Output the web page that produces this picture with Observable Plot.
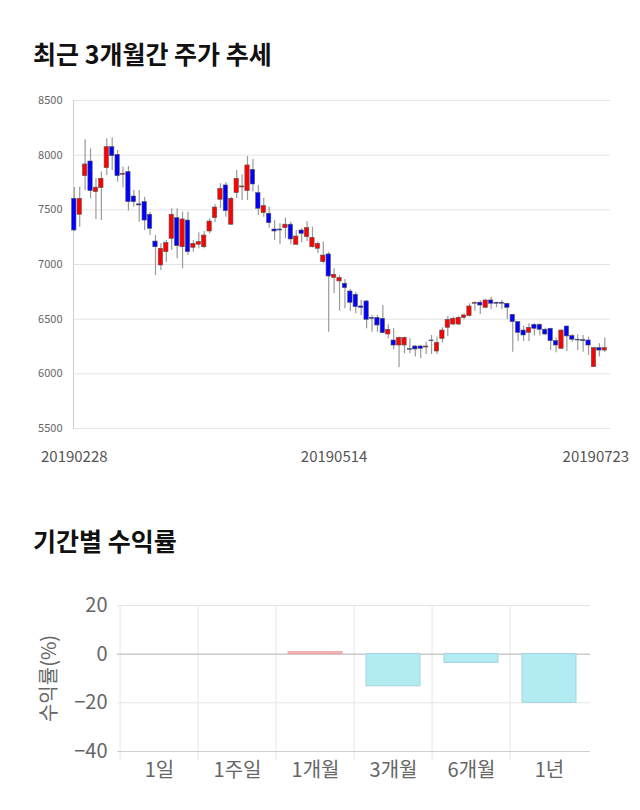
<!DOCTYPE html>
<html>
<head>
<meta charset="utf-8">
<script src="https://cdn.jsdelivr.net/npm/d3@7"></script>
<script src="https://cdn.jsdelivr.net/npm/@observablehq/plot@0.6"></script>
<style>
  body { margin:0; width:640px; height:810px; position:relative; background:#fff; font-family:"Noto Sans CJK KR", sans-serif; }
  .title { position:absolute; left:33px; font-weight:bold; font-size:25px; line-height:30px; color:#111; white-space:nowrap; }
  .chart { position:absolute; left:0; }
</style>
</head>
<body>
<div class="title" style="top:38px">최근 3개월간 주가 추세</div>
<div id="c1" class="chart" style="top:80px"></div>
<div class="title" style="top:525px">기간별 수익률</div>
<div id="c2" class="chart" style="top:590px"></div>
<script>
// ---- Price chart data (daily candles, 20190228 .. 20190723) ----
const openP  = [7601,7455,7808,7942,7662,7699,7881,8073,8003,7820,7845,7622,7550,7570,7455,7210,6991,7113,7235,7424,
                7158,7402,7153,7181,7158,7302,7424,7592,7723,7364,7653,7705,7671,7866,7653,7470,7464,7320,7320,7333,
                7364,7180,7311,7250,7158,7144,7022,7092,6878,6845,6824,6753,6723,6616,6662,6512,6512,6503,6360,6305,
                6259,6259,6226,6250,6250,6241,6305,6204,6320,6421,6451,6451,6512,6528,6641,6650,6604,6671,6650,6650,
                6641,6540,6473,6396,6375,6448,6448,6403,6412,6299,6229,6433,6345,6312,6308,6305,6061,6235,6213,6230];
const highP  = [7704,7707,8140,8058,7784,7845,8150,8159,8043,7890,7896,7677,7677,7616,7479,7265,7189,7220,7510,7510,
                7479,7479,7220,7290,7302,7418,7546,7738,7747,7616,7860,7820,7988,7960,7723,7607,7525,7402,7372,7424,
                7387,7311,7327,7393,7342,7205,7205,7113,6961,6900,6863,6771,6747,6671,6671,6534,6534,6625,6448,6412,
                6336,6336,6320,6259,6259,6290,6351,6336,6421,6524,6519,6524,6549,6641,6656,6671,6677,6701,6656,6671,
                6641,6540,6479,6436,6458,6458,6458,6418,6418,6327,6403,6433,6360,6357,6351,6336,6244,6275,6327,6230];
const lowP   = [7300,7341,7677,7601,7412,7402,7814,7860,7753,7702,7488,7524,7387,7311,7265,6899,6945,7021,7128,7052,
                6961,7082,7113,7144,7144,7281,7382,7510,7433,7357,7601,7585,7585,7662,7448,7433,7332,7220,7180,7235,
                7180,7180,7199,7210,7150,7098,7007,6381,6732,6573,6595,6570,6549,6534,6412,6381,6381,6366,6320,6220,
                6055,6183,6183,6153,6138,6177,6177,6177,6281,6342,6442,6442,6494,6519,6573,6543,6595,6586,6604,6586,
                6494,6198,6296,6296,6296,6345,6345,6351,6213,6192,6223,6204,6290,6213,6198,6168,6061,6153,6198,6230];
const closeP = [7311,7601,7915,7671,7702,7784,8073,7991,7808,7830,7570,7570,7540,7402,7327,7158,7144,7196,7455,7168,
                7412,7113,7189,7205,7265,7393,7521,7692,7488,7601,7784,7714,7906,7732,7510,7534,7378,7302,7311,7364,
                7229,7256,7281,7333,7244,7189,7082,6890,6906,6876,6784,6650,6610,6604,6494,6503,6442,6372,6403,6259,
                6329,6329,6220,6223,6229,6250,6300,6284,6396,6494,6503,6512,6534,6616,6650,6625,6671,6641,6641,6641,
                6604,6473,6375,6351,6421,6412,6403,6360,6299,6259,6396,6342,6312,6305,6299,6259,6235,6213,6235,6230];
const priceTicks = [5500, 6000, 6500, 7000, 7500, 8000, 8500];
const dateTickIndex = [0, 48, 99];
const dateTickLabels = ["20190228", "20190514", "20190723"];

// ---- Period returns data ----
const periods = ["1일", "1주일", "1개월", "3개월", "6개월", "1년"];
const returns = [0, 0, 0.8, -13.2, -3.6, -20.0];
const returnTicks = [-40, -20, 0, 20];

const FONT = '"Noto Sans CJK KR", "Liberation Sans", sans-serif';

const candles = openP.map((o, i) => ({i, open: o, high: highP[i], low: lowP[i], close: closeP[i]}));
const candleColor = d => d.close > d.open ? "#ff0000" : d.close < d.open ? "#0000ff" : "#999999";

const chart1 = Plot.plot({
  width: 640, height: 400,
  marginTop: 20, marginBottom: 52, marginLeft: 73, marginRight: 30,
  style: {fontFamily: FONT, background: "transparent", overflow: "visible"},
  x: {type: "band", domain: candles.map(d => d.i), range: [71.63, 611.85], paddingInner: 0.2, paddingOuter: 0},
  y: {domain: [5500, 8500]},
  color: {type: "identity"},
  marks: [
    Plot.gridY(priceTicks, {stroke: "#e3e3e3", strokeOpacity: 1}),
    Plot.frame({anchor: "left", stroke: "#d0d0d0"}),
    Plot.axisY({ticks: priceTicks, tickFormat: d => String(d), tickSize: 0, tickPadding: 11, fontSize: 11, color: "#666", label: null}),
    Plot.axisX({ticks: dateTickIndex.slice(0, 2), tickFormat: i => dateTickLabels[dateTickIndex.indexOf(i)],
      tickSize: 0, tickPadding: 23, fontSize: 15, color: "#555", label: null}),
    Plot.axisX({ticks: dateTickIndex.slice(2), tickFormat: i => dateTickLabels[dateTickIndex.indexOf(i)],
      tickSize: 0, tickPadding: 23, fontSize: 15, color: "#555", label: null, textAnchor: "end", dx: 19}),
    Plot.ruleX(candles, {x: "i", y1: "low", y2: "high", stroke: "#9a9a9a", strokeWidth: 1.2}),
    Plot.barY(candles, {x: "i", y1: "open", y2: "close", fill: candleColor, stroke: "#555", strokeWidth: 0.6})
  ]
});
document.getElementById("c1").append(chart1);

const rets = periods.map((p, k) => ({period: p, value: returns[k]}));
const step = (640 - 117 - 50) / 6;
const chart2 = Plot.plot({
  width: 640, height: 200,
  marginTop: 15, marginBottom: 39, marginLeft: 117, marginRight: 50,
  style: {fontFamily: FONT, background: "transparent", overflow: "visible"},
  x: {domain: periods, paddingInner: 0.31, paddingOuter: 0.155},
  y: {domain: [-40, 20]},
  color: {type: "identity"},
  marks: [
    Plot.gridY(returnTicks, {stroke: "#e6e6e6", strokeOpacity: 1}),
    Plot.ruleX(periods, {x: d => d, dx: -step / 2, stroke: "#e6e6e6", insetBottom: -9}),
    Plot.ruleY([0], {stroke: "#bdbdbd"}),
    Plot.ruleY([-40], {stroke: "#cfcfcf"}),
    Plot.barY(rets, {x: "period", y: "value",
      fill: d => d.value >= 0 ? "#f5b9b9" : "#b3ebf3",
      stroke: d => d.value >= 0 ? "#eaa2a2" : "#9fd6e0", strokeWidth: 1}),
    Plot.axisY({ticks: returnTicks, tickSize: 0, tickPadding: 10, fontSize: 20, color: "#666",
      label: "수익률(%)", labelAnchor: "center", labelOffset: 76, labelArrow: "none"}),
    Plot.axisX({tickSize: 0, tickPadding: 11, fontSize: 20, color: "#666", label: null})
  ]
});
document.getElementById("c2").append(chart2);
</script>
</body>
</html>
